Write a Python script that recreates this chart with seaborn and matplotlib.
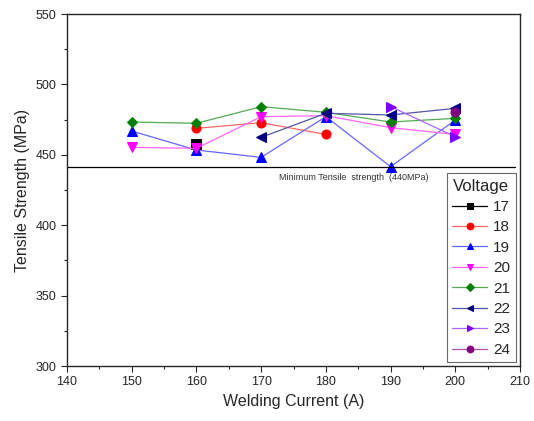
import matplotlib
matplotlib.use("Agg")
import matplotlib.pyplot as plt
from matplotlib.ticker import MultipleLocator
import seaborn as sns
import pandas as pd

sns.set_style("ticks")
plt.rcParams['font.family'] = ['Liberation Sans', 'DejaVu Sans']

voltages = ["17", "18", "19", "20", "21", "22", "23", "24"]
currents = {
    "17": [160],
    "18": [160, 170, 180],
    "19": [150, 160, 170, 180, 190, 200],
    "20": [150, 160, 170, 180, 190, 200],
    "21": [150, 160, 170, 180, 190, 200],
    "22": [170, 180, 190, 200],
    "23": [190, 200],
    "24": [200],
}
strength = {
    "17": [457.7],
    "18": [468.8, 472.8, 464.5],
    "19": [466.9, 453.4, 448.2, 477.1, 441.6, 474.7],
    "20": [455.3, 454.6, 477.1, 477.8, 469.3, 464.5],
    "21": [473.3, 472.4, 484.2, 480.2, 473.3, 475.9],
    "22": [462.4, 479.5, 478.3, 483.0],
    "23": [484.2, 462.9],
    "24": [480.6],
}
colors = ["#000000", "#ff0000", "#0000ff", "#ff00ff", "#008000", "#000080", "#8000ff", "#800080"]
markers = ["s", "o", "^", "v", "D", "<", ">", "o"]
min_strength = 441

rows = []
for v in voltages:
    for c, s in zip(currents[v], strength[v]):
        rows.append({"Voltage": v, "Current": c, "Strength": s})
df = pd.DataFrame(rows)

fig = plt.figure(figsize=(5.34, 4.21), dpi=100)
ax = fig.add_axes([0.1255, 0.1306, 0.8483, 0.8361])

line_colors = ["#000000", "#ff6666", "#6666ff", "#ff66ff", "#55aa55", "#5555aa", "#aa66ff", "#aa55aa"]
for v, col, lc, m in zip(voltages, colors, line_colors, markers):
    sub = df[df["Voltage"] == v]
    sns.lineplot(data=sub, x="Current", y="Strength", ax=ax, color=lc, lw=0.9,
                 marker=m, markersize=6.5 if m != "D" else 5.5, markerfacecolor=col,
                 markeredgecolor=col, label=v, legend=False)

ax.axhline(min_strength, xmin=0, xmax=0.99, color="black", lw=0.9)
ax.text(184.3, 437, "Minimum Tensile  strength  (440MPa)", fontsize=6.5,
        ha="center", va="top", color="#333333")

ax.set_xlim(140, 210)
ax.set_ylim(300, 550)
ax.xaxis.set_major_locator(MultipleLocator(10))
ax.xaxis.set_minor_locator(MultipleLocator(5))
ax.yaxis.set_major_locator(MultipleLocator(50))
ax.yaxis.set_minor_locator(MultipleLocator(25))
ax.tick_params(which="both", direction="out", labelsize=9, width=0.8)
ax.tick_params(which="major", length=4)
ax.tick_params(which="minor", length=2.5)
for sp in ax.spines.values():
    sp.set_linewidth(1.0)
    sp.set_visible(True)
ax.set_xlabel("Welding Current (A)", fontsize=11.5)
ax.set_ylabel("Tensile Strength (MPa)", fontsize=11.5)

leg = ax.legend(title="Voltage", loc="lower right", bbox_to_anchor=(0.997, 0.002),
                fontsize=11, title_fontsize=12, frameon=True, fancybox=False,
                edgecolor="#444444", handlelength=2.3, labelspacing=0.42,
                borderpad=0.35, handletextpad=0.4, borderaxespad=0.2,
                markerscale=0.75)
leg.get_frame().set_linewidth(0.8)

fig.savefig("out.png", dpi=100)
